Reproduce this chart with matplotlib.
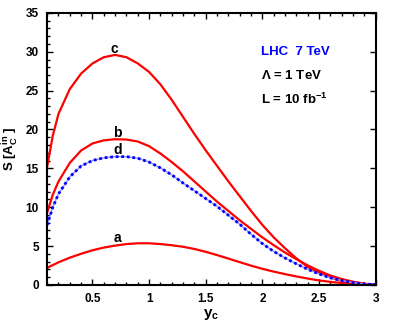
import numpy as np
import matplotlib
matplotlib.use('Agg')
import matplotlib.pyplot as plt
from matplotlib.ticker import MultipleLocator

plt.rcParams['font.family'] = ['Liberation Sans', 'DejaVu Sans']
plt.rcParams['font.weight'] = 'bold'
plt.rcParams['mathtext.fontset'] = 'custom'
plt.rcParams['mathtext.rm'] = 'Liberation Sans:bold'
plt.rcParams['mathtext.it'] = 'Liberation Sans:bold'
plt.rcParams['mathtext.bf'] = 'Liberation Sans:bold'

# values
y_c = [0.1, 0.15, 0.2, 0.3, 0.4, 0.5, 0.6, 0.7, 0.8, 0.9, 1.0,
       1.1, 1.2, 1.3, 1.4, 1.5, 1.6, 1.7, 1.8, 1.9, 2.0,
       2.1, 2.2, 2.3, 2.4, 2.5, 2.6, 2.7, 2.8, 2.9, 3.0]
curve_a = [2.2, 2.55, 2.9, 3.5, 4.0, 4.45, 4.8, 5.05, 5.25, 5.35, 5.35,
           5.25, 5.1, 4.9, 4.62, 4.25, 3.83, 3.38, 2.92, 2.47, 2.06,
           1.7, 1.38, 1.08, 0.81, 0.57, 0.38, 0.24, 0.14, 0.07, 0.02]
curve_b = [9.3, 11.6, 13.3, 15.7, 17.3, 18.2, 18.6, 18.75, 18.7, 18.45, 17.85,
           16.9, 15.8, 14.6, 13.3, 12.0, 10.7, 9.5, 8.3, 7.2, 6.1,
           5.1, 4.15, 3.3, 2.5, 1.8, 1.2, 0.75, 0.4, 0.15, 0.03]
curve_c = [15.2, 19.2, 22.0, 25.2, 27.2, 28.5, 29.3, 29.6, 29.3, 28.5, 27.4,
           25.8, 23.8, 21.6, 19.4, 17.3, 15.3, 13.3, 11.4, 9.5, 7.7,
           6.1, 4.7, 3.4, 2.3, 1.55, 0.95, 0.5, 0.22, 0.07, 0.0]
curve_d = [7.7, 10.0, 11.7, 13.9, 15.3, 16.0, 16.35, 16.5, 16.5, 16.3, 15.8,
           15.05, 14.15, 13.1, 12.1, 11.1, 10.1, 8.95, 7.8, 6.5, 5.3,
           4.3, 3.45, 2.7, 2.0, 1.4, 0.9, 0.55, 0.28, 0.11, 0.03]

fig = plt.figure(figsize=(3.96, 3.32), dpi=100)
ax = fig.add_axes([0.119, 0.142, 0.830, 0.819])

ax.plot(y_c, curve_a, color='red', lw=1.6)
ax.plot(y_c, curve_b, color='red', lw=1.6)
ax.plot(y_c, curve_c, color='red', lw=1.6)
ax.plot(y_c, curve_d, color='#9090ff', lw=1.0)
ax.plot(y_c, curve_d, color='blue', lw=2.0, ls=(0, (1, 1)))

ax.text(0.69, 29.9, 'c', fontsize=10, fontweight='bold', ha='center', va='baseline')
ax.text(0.72, 19.0, 'b', fontsize=10, fontweight='bold', ha='center', va='baseline')
ax.text(0.72, 16.8, 'd', fontsize=10, fontweight='bold', ha='center', va='baseline')
ax.text(0.72, 5.5, 'a', fontsize=10, fontweight='bold', ha='center', va='baseline')

ax.text(1.99, 30.0, 'LHC  7 TeV', color='blue', fontsize=9.5, fontweight='bold', va='center')
ax.text(1.99, 27.0, r'$\Lambda$ = 1 TeV', color='black', fontsize=9.5, fontweight='bold', va='center')
ax.text(1.99, 23.9, r'L = 10 fb$^{\mathbf{-1}}$', color='black', fontsize=9.5, fontweight='bold', va='center')

ax.set_xlim(0.1, 3)
ax.set_ylim(0, 35)
ax.xaxis.set_major_locator(MultipleLocator(0.5))
ax.xaxis.set_minor_locator(MultipleLocator(0.1))
ax.yaxis.set_major_locator(MultipleLocator(5))
ax.yaxis.set_minor_locator(MultipleLocator(1))
ax.set_xticks([0.5, 1, 1.5, 2, 2.5, 3])
ax.set_xticklabels(['0.5', '1', '1.5', '2', '2.5', '3'])

ax.tick_params(which='both', direction='in', top=True, right=True, labelsize=8.5, width=1)
ax.tick_params(which='major', length=4, pad=6)
ax.tick_params(which='minor', length=2, right=False)
for s in ax.spines.values():
    s.set_linewidth(1.5)

ax.set_xlabel(r'y$_\mathbf{c}$', fontsize=11, fontweight='bold', labelpad=1)
ax.set_ylabel(r'S [A$_\mathbf{C}^\mathbf{in}$ ]', fontsize=9.5, fontweight='bold', labelpad=3)

fig.savefig('out.png', dpi=100)
